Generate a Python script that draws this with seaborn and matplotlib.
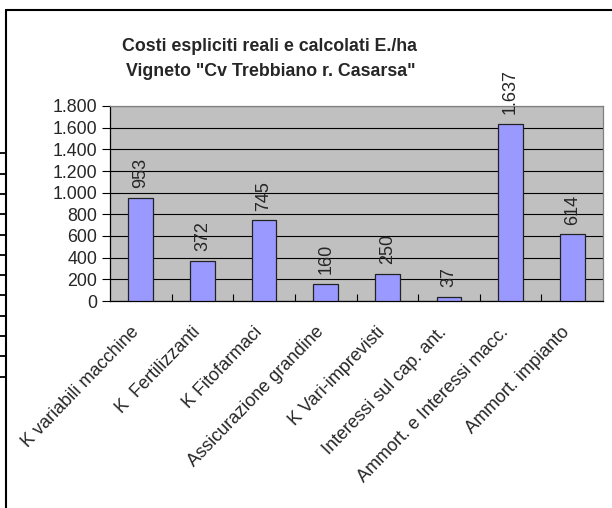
import matplotlib
matplotlib.use("Agg")
import matplotlib.pyplot as plt
from matplotlib.lines import Line2D
from matplotlib.ticker import FixedLocator, FuncFormatter
from matplotlib.transforms import ScaledTranslation
import seaborn as sns
import pandas as pd

categories = [
    "K variabili macchine",
    "K  Fertilizzanti",
    "K Fitofarmaci",
    "Assicurazione grandine",
    "K Vari-imprevisti",
    "Interessi sul cap. ant.",
    "Ammort. e Interessi macc.",
    "Ammort. impianto",
]
costs = [953, 372, 745, 160, 250, 37, 1637, 614]
y_ticks = [0, 200, 400, 600, 800, 1000, 1200, 1400, 1600, 1800]

title_lines = ["Costi espliciti reali e calcolati E./ha",
               'Vigneto "Cv Trebbiano r. Casarsa"']


def it_thousands(v, _pos=None):
    return f"{int(round(v)):,}".replace(",", ".")


sns.set_theme(style="white")
plt.rcParams["font.family"] = ["Liberation Sans", "DejaVu Sans"]

df = pd.DataFrame({"voce": categories, "costo": costs})

fig = plt.figure(figsize=(6.12, 5.08), dpi=100)
fig.patch.set_facecolor("white")
ax = fig.add_axes([110 / 612, 1 - 301 / 508, 493 / 612, 195 / 508])

sns.barplot(data=df, x="voce", y="costo", color="#9999FF", width=0.4,
            edgecolor="#222222", linewidth=0.9, saturation=1, ax=ax, zorder=3)

ax.set_facecolor("#C0C0C0")
ax.set_xlim(-0.5, len(categories) - 0.5)
ax.set_ylim(y_ticks[0], y_ticks[-1])
ax.set_yticks(y_ticks)
ax.yaxis.set_major_formatter(FuncFormatter(it_thousands))
ax.grid(axis="y", color="black", linewidth=0.8, zorder=0)
ax.set_axisbelow(True)
for side, sp in ax.spines.items():
    sp.set_visible(True)
    sp.set_color("#808080")
    sp.set_linewidth(0.9)
ax.spines["left"].set_color("black")
ax.spines["bottom"].set_color("black")

ax.set_xlabel("")
ax.set_ylabel("")
ax.tick_params(axis="y", direction="out", length=6, width=0.8, color="black",
               labelsize=12.8, pad=3, left=True)
ax.tick_params(axis="x", which="major", length=0, pad=9)
ax.xaxis.set_minor_locator(FixedLocator([i + 0.5 for i in range(len(categories) - 1)]))
ax.tick_params(axis="x", which="minor", direction="in", length=5, width=0.8,
               color="black", bottom=True)
ax.set_xticks(range(len(categories)))
ax.set_xticklabels(categories, rotation=46, ha="right", rotation_mode="anchor",
                   fontsize=13)
# nudge the slanted category labels down-left under their bars
shift = ScaledTranslation(-11 / 100, -10 / 100, fig.dpi_scale_trans)
for lab in ax.get_xticklabels():
    lab.set_transform(lab.get_transform() + shift)

for container in ax.containers:
    ax.bar_label(container, labels=[it_thousands(v) for v in costs],
                 rotation=90, padding=7, fontsize=13)

fig.text(0.441, 0.909, title_lines[0], ha="center", va="center",
         fontsize=12.8, fontweight="bold")
fig.text(0.443, 0.859, title_lines[1], ha="center", va="center",
         fontsize=12.8, fontweight="bold")

# chart-area frame (only left and top edges fall inside the image)
fig.add_artist(Line2D([6 / 612, 6 / 612], [0, 1 - 10 / 508], color="black",
                      linewidth=1.5, transform=fig.transFigure))
fig.add_artist(Line2D([6 / 612, 1], [1 - 10 / 508, 1 - 10 / 508], color="black",
                      linewidth=1.5, transform=fig.transFigure))

# tick marks of the neighbouring sheet object at the left margin
for k in range(12):
    yy = 1 - (153.3 + k * 20.3) / 508
    fig.add_artist(Line2D([0, 6 / 612], [yy, yy], color="black",
                          linewidth=1.3, transform=fig.transFigure))

fig.savefig("out.png", dpi=100)
